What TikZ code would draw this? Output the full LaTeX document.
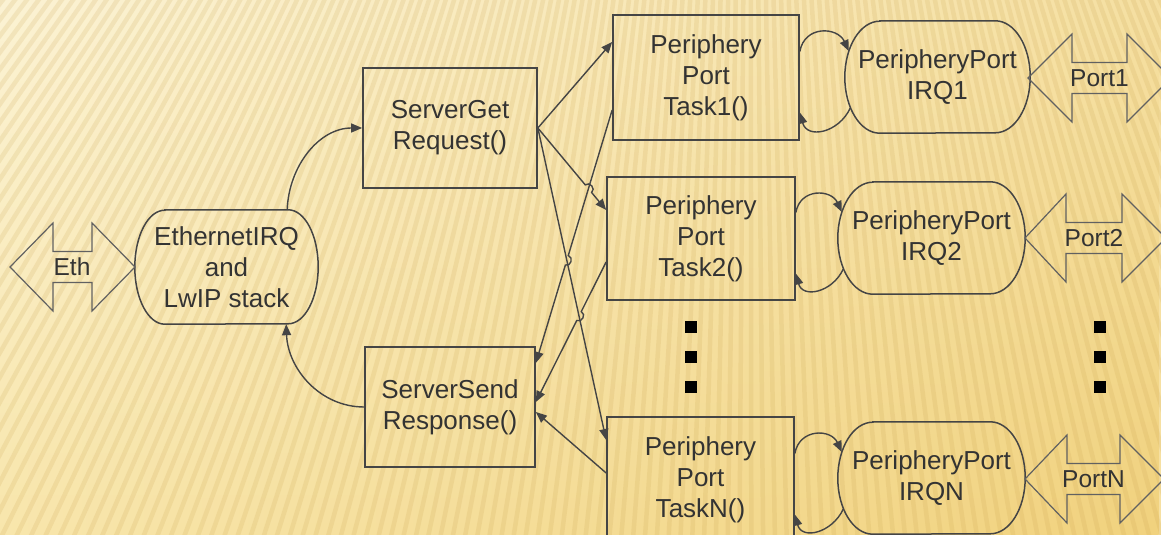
\documentclass[tikz,border=0pt]{standalone}
\usepackage{fontspec}
\setmainfont{Liberation Sans}
\usetikzlibrary{arrows.meta,calc,intersections,fadings}
\definecolor{ink}{HTML}{333333}
\definecolor{edge}{HTML}{454545}
\definecolor{bgUL}{HTML}{FCF3D4}
\definecolor{bgUR}{HTML}{F6E0A2}
\definecolor{bgLL}{HTML}{F8E6AC}
\definecolor{bgLR}{HTML}{F1D27E}
\definecolor{stripec}{HTML}{C9A24E}
\tikzfading[name=myfadeup, top color=transparent!100, bottom color=transparent!0]
\newcommand{\myDblArrow}[5]{\draw[portline] (#1,#5) -- (#2,#5+44) -- (#2,#5+15.5) -- (#3,#5+15.5) -- (#3,#5+44) -- (#4,#5) -- (#3,#5-44) -- (#3,#5-15.5) -- (#2,#5-15.5) -- (#2,#5-44) -- cycle;}
\newcommand{\myStadium}[3]{\draw[irqline] ($(#1.north west)+(#2,0)$) -- ($(#1.north east)+(-#2,0)$) arc[start angle=90,end angle=-90,x radius=#2,y radius=#3] -- ($(#1.south west)+(#2,0)$) arc[start angle=270,end angle=90,x radius=#2,y radius=#3] -- cycle;}
\begin{document}
\begin{tikzpicture}[x=1pt,y=1pt,
  txt/.style={text=ink,font=\fontsize{26}{31}\selectfont,align=center,inner sep=0pt},
  box/.style={txt,draw=edge,line width=1.7pt},
  irqbox/.style={txt,minimum width=187pt,minimum height=112pt},
  irqline/.style={draw=edge,line width=1.5pt},
  portline/.style={draw=edge!85,line width=1.2pt,line join=miter},
  plabel/.style={text=ink,font=\fontsize{24.5}{29}\selectfont,inner sep=0pt},
  conn/.style={draw=edge,line width=1.4pt,-{Triangle[length=11pt,width=9pt]}},
  dotsq/.style={fill=black,minimum size=12pt,inner sep=0pt},
  stripe/.style={line width=4.5pt,draw=stripec,opacity=0.17}]
\useasboundingbox (0,0) rectangle (1161,535);
\begin{scope}
\clip (0,0) rectangle (1161,535);
\shade[left color=bgUL,right color=bgUR] (0,0) rectangle (1161,535);
\shade[left color=bgLL,right color=bgLR,path fading=myfadeup] (0,0) rectangle (1161,535);
\foreach \a in {-40,-39.55,...,26} {\draw[stripe] (750,1500) -- ++(270+\a:2600);}

% nodes
\node[box,minimum width=174pt,minimum height=120pt] (sg) at (450,407) {ServerGet\\Request()};
\node[box,minimum width=170pt,minimum height=120pt] (ss) at (450,128) {ServerSend\\Response()};
\node[box,minimum width=186pt,minimum height=125pt] (t1) at (706,457.5) {Periphery\\Port\\Task1()};
\node[box,minimum width=188pt,minimum height=123pt] (t2) at (701,296.5) {Periphery\\Port\\Task2()};
\node[box,minimum width=187pt,minimum height=125pt] (tN) at (700.5,55.5) {Periphery\\Port\\TaskN()};
\node[irqbox,minimum width=183pt,minimum height=114pt] (eirq) at (226.5,268) {EthernetIRQ\\and\\LwIP stack};
\node[irqbox,minimum width=185pt] (irq1) at (937.5,458) {PeripheryPort\\IRQ1};
\node[irqbox] (irq2) at (931.5,297) {PeripheryPort\\IRQ2};
\node[irqbox] (irqN) at (931.5,57) {PeripheryPort\\IRQN};
\myStadium{eirq}{30}{57}
\myStadium{irq1}{35}{56}
\myStadium{irq2}{35}{56}
\myStadium{irqN}{35}{56}

% port arrows
\myDblArrow{10}{53}{92}{135}{268}
\node[plabel] (eth) at (72,268) {Eth};
\myDblArrow{1028}{1072}{1127}{1171}{457}
\node[plabel] (p1) at (1099.5,457) {Port1};
\myDblArrow{1025}{1066}{1122}{1166}{297}
\node[plabel] (p2) at (1094,297) {Port2};
\myDblArrow{1025}{1067}{1120}{1164}{56}
\node[plabel] (pN) at (1093.5,56) {PortN};

% dots
\foreach \yy [count=\i] in {208,178,148} {
  \node[dotsq] (dl\i) at (691,\yy) {};
  \node[dotsq] (dr\i) at (1100,\yy) {};
}

% Ethernet loop
\draw[conn] ($(eirq.north east)+(-31,0)$) to[out=88,in=180] (sg.west);
\draw[conn] (ss.west) to[out=180,in=272] ($(eirq.south east)+(-32,0)$);

% task loops
\foreach \t/\q in {t1/irq1,t2/irq2,tN/irqN} {
  \draw[conn] ($(\t.east)+(0,26)$) to[out=80,in=115,looseness=1.4] ($(\q.west)+(4,26)$);
  \draw[conn] ($(\q.west)+(5.5,-31)$) to[out=245,in=-75,looseness=1.4] ($(\t.east)+(0,-35)$);
}

% cross connections
\coordinate (c4e) at ($(t2.west)+(0,28.5)$);
\coordinate (c5e) at ($(tN.west)+(0,39.5)$);
\coordinate (c6s) at ($(t1.west)+(0,-32.5)$);
\coordinate (c6e) at ($(ss.east)+(0,44)$);
\coordinate (c7s) at ($(t2.west)+(0,-23.5)$);
\coordinate (c7e) at ($(ss.east)+(0,5)$);
\path[name path=p4] (sg.east) -- (c4e);
\path[name path=p5] (sg.east) -- (c5e);
\path[name path=p6] (c6s) -- (c6e);
\path[name path=p7] (c7s) -- (c7e);
\path[name intersections={of=p4 and p6,by=h1}];
\path[name intersections={of=p6 and p5,by=h2}];
\path[name intersections={of=p7 and p5,by=h3}];

\draw[conn] (sg.east) -- ($(t1.west)+(0,35.5)$);
\draw[conn] (sg.east) -- ($(h1)!5pt!(sg.east)$) to[bend left=90,looseness=1.5] ($(h1)!5pt!(c4e)$) -- (c4e);
\draw[conn] (sg.east) -- (c5e);
\draw[conn] (c6s) -- ($(h2)!5pt!(c6s)$) to[bend left=90,looseness=1.5] ($(h2)!5pt!(c6e)$) -- (c6e);
\draw[conn] (c7s) -- ($(h3)!5pt!(c7s)$) to[bend left=90,looseness=1.5] ($(h3)!5pt!(c7e)$) -- (c7e);
\draw[conn] ($(tN.west)+(0,6.5)$) -- ($(ss.east)+(0,-5)$);
\end{scope}
\end{tikzpicture}
\end{document}
